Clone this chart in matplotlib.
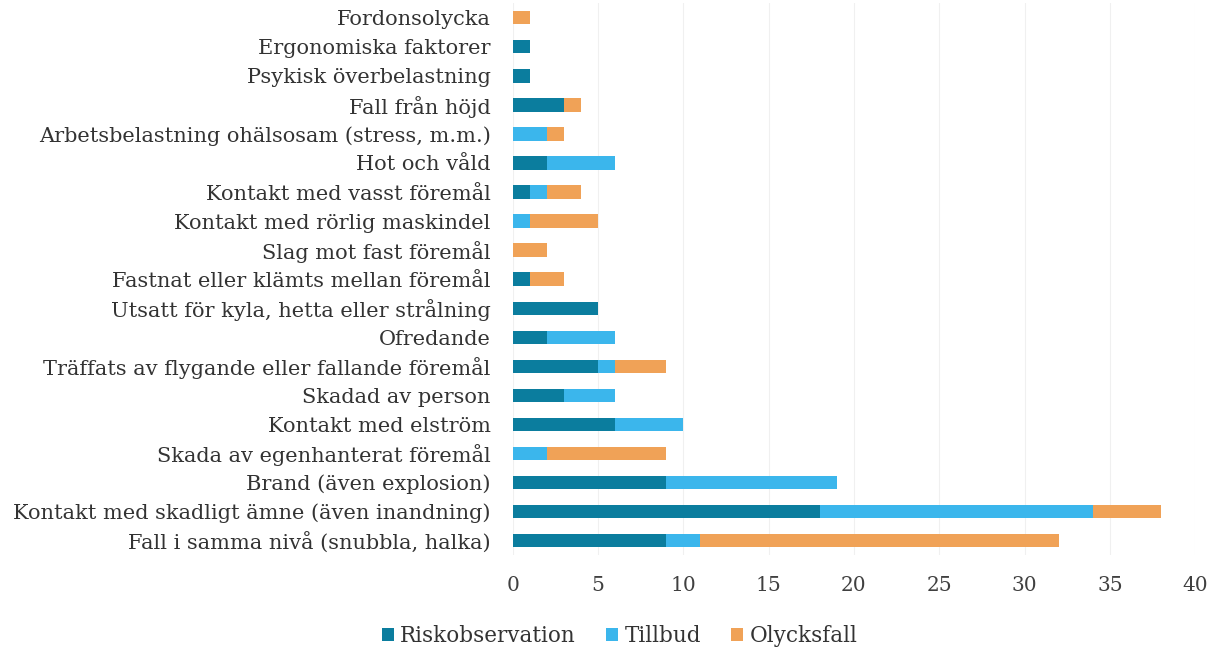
import matplotlib
matplotlib.use("Agg")
import matplotlib.pyplot as plt
import numpy as np

plt.rcParams['font.family'] = ['DejaVu Serif']

# categories from bottom to top
categories = [
    "Fall i samma nivå (snubbla, halka)",
    "Kontakt med skadligt ämne (även inandning)",
    "Brand (även explosion)",
    "Skada av egenhanterat föremål",
    "Kontakt med elström",
    "Skadad av person",
    "Träffats av flygande eller fallande föremål",
    "Ofredande",
    "Utsatt för kyla, hetta eller strålning",
    "Fastnat eller klämts mellan föremål",
    "Slag mot fast föremål",
    "Kontakt med rörlig maskindel",
    "Kontakt med vasst föremål",
    "Hot och våld",
    "Arbetsbelastning ohälsosam (stress, m.m.)",
    "Fall från höjd",
    "Psykisk överbelastning",
    "Ergonomiska faktorer",
    "Fordonsolycka",
]
riskobservation = [9, 18, 9, 0, 6, 3, 5, 2, 5, 1, 0, 0, 1, 2, 0, 3, 1, 1, 0]
tillbud         = [2, 16, 10, 2, 4, 3, 1, 4, 0, 0, 0, 1, 1, 4, 2, 0, 0, 0, 0]
olycksfall      = [21, 4, 0, 7, 0, 0, 3, 0, 0, 2, 2, 4, 2, 0, 1, 1, 0, 0, 1]
xticks = [0, 5, 10, 15, 20, 25, 30, 35, 40]

c_r = "#0b7d9e"
c_t = "#3bb6ec"
c_o = "#f0a257"

fig = plt.figure(figsize=(12.27, 6.47), dpi=100)
ax = fig.add_axes([0.418, 0.142, 0.556, 0.853])

y = np.arange(len(categories))
r = np.array(riskobservation)
t = np.array(tillbud)
o = np.array(olycksfall)
h = 0.46
ax.barh(y, r, height=h, color=c_r, label="Riskobservation", zorder=2)
ax.barh(y, t, left=r, height=h, color=c_t, label="Tillbud", zorder=2)
ax.barh(y, o, left=r + t, height=h, color=c_o, label="Olycksfall", zorder=2)

ax.set_xlim(0, 40)
ax.set_ylim(-0.5, len(categories) - 0.5)
ax.set_xticks(xticks)
ax.set_yticks(y)
ax.set_yticklabels(categories, fontsize=15, color="#333333")
ax.tick_params(axis='x', labelsize=14.5, colors="#404040", length=0, pad=15)
ax.tick_params(axis='y', length=0, pad=16)
ax.grid(axis='x', color="#f0f0f0", linewidth=0.8, zorder=0)
for s in ax.spines.values():
    s.set_visible(False)

fig.legend(loc='lower center', bbox_to_anchor=(0.505, -0.03), ncol=3, frameon=False,
           fontsize=15.5, handlelength=0.55, handleheight=0.55, handletextpad=0.3,
           columnspacing=1.4, labelcolor="#333333")

fig.savefig("out.png", dpi=100)
